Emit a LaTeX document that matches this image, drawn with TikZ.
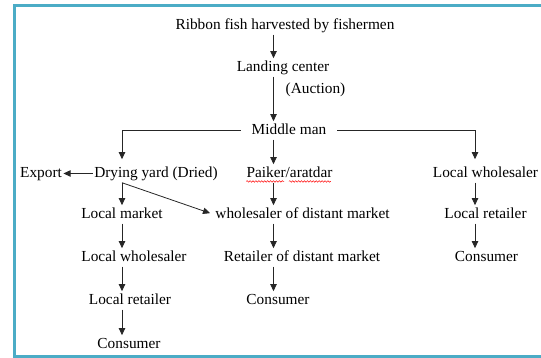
\documentclass[tikz,border=0pt]{standalone}
\usepackage{fontspec}
\setmainfont{Liberation Serif}
\usetikzlibrary{arrows.meta,calc,decorations.pathmorphing}
\definecolor{framecol}{HTML}{4BACC6}
\begin{document}
\begin{tikzpicture}[x=0.75pt,y=-0.75pt,
 lbl/.style={font=\fontsize{11.5pt}{13pt}\selectfont, text height=8pt, text depth=2.5pt, inner xsep=1pt, inner ysep=1.5pt, anchor=center, yshift=-1.1pt},
 arr/.style={draw=black!85, line width=0.6pt, -{Triangle[length=5.3pt,width=4.8pt]}},
 frame/.style={draw=framecol, line width=2.2pt},
 squig/.style={draw=red, line width=0.35pt, decorate, decoration={snake, amplitude=0.6pt, segment length=2.2pt}}]
\useasboundingbox (0,0) rectangle (541,357);
\draw[frame] (541,5.3) -- (14.2,5.3) -- (14.2,356.3) -- (541,356.3);
\coordinate (cx) at (273.5,0);
\coordinate (lx) at (122,0);
\coordinate (rx) at (475,0);
\node[lbl] (rib) at (285,24) {Ribbon fish harvested by fishermen};
\node[lbl] (land) at (283,66) {Landing center};
\node[lbl] (auc) at (315.5,88) {(Auction)};
\node[lbl, inner xsep=8pt] (mid) at (289,129) {Middle man};
\node[lbl] (exp) at (41,172) {Export};
\node[lbl] (dry) at (156,172) {Drying yard (Dried)};
\node[lbl] (pai) at (289.5,172) {Paiker/aratdar};
\node[lbl] (lw1) at (485.5,172) {Local wholesaler};
\node[lbl] (lm) at (122,213) {Local market};
\node[lbl] (wds) at (302.5,213) {wholesaler of distant market};
\node[lbl] (lr1) at (485.5,213) {Local retailer};
\node[lbl] (lw2) at (134,256) {Local wholesaler};
\node[lbl] (rds) at (302,256) {Retailer of distant market};
\node[lbl] (con1) at (486.5,256) {Consumer};
\node[lbl] (lr2) at (130,299) {Local retailer};
\node[lbl] (con2) at (278,299) {Consumer};
\node[lbl] (con3) at (129,343) {Consumer};
\draw[arr] (rib.south -| cx) -- (land.north -| cx);
\draw[arr] (land.south -| cx) -- (mid.north -| cx);
\draw[arr] (mid.south -| cx) -- (pai.north -| cx);
\draw[arr, shorten >=3.75pt] (mid.west) -| (dry.north -| lx);
\draw[arr, shorten >=3.75pt] (mid.east) -| (lw1.north -| rx);
\draw[arr] (dry.west) -- (exp.east);
\draw[arr] (dry.south -| lx) -- (lm.north -| lx);
\draw[arr, shorten >=3pt] (dry.south -| lx) -- (wds.west);
\draw[arr] (pai.south -| cx) -- (wds.north -| cx);
\draw[arr] (lw1.south -| rx) -- (lr1.north -| rx);
\draw[arr] (lm.south -| lx) -- (lw2.north -| lx);
\draw[arr] (wds.south -| cx) -- (rds.north -| cx);
\draw[arr] (lr1.south -| rx) -- (con1.north -| rx);
\draw[arr] (lw2.south -| lx) -- (lr2.north -| lx);
\draw[arr] (rds.south -| cx) -- (con2.north -| cx);
\draw[arr] (lr2.south -| lx) -- (con3.north -| lx);
\draw[squig] ($(pai.base west)+(1.3,4.3)$) -- ++(38,0);
\draw[squig] ($(pai.base west)+(44,4.3)$) -- ++(42,0);
\end{tikzpicture}
\end{document}
